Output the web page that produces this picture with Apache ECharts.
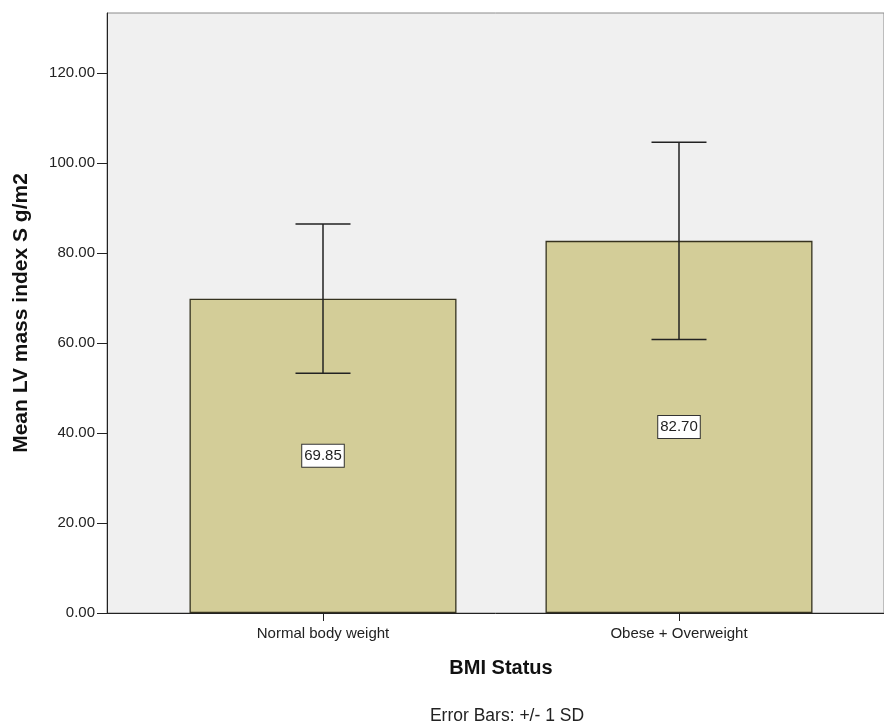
<!DOCTYPE html>
<html>
<head>
<meta charset="utf-8">
<script src="https://cdn.jsdelivr.net/npm/echarts@6/dist/echarts.min.js"></script>
<style>html,body{margin:0;padding:0;background:#fff}#c{width:884px;height:724px}</style>
</head>
<body>
<div id="c"></div>
<script>
var categories = ['Normal body weight', 'Obese + Overweight'];
var means = [69.85, 82.70];
var sds = [16.6, 21.9];
var yTicks = [0, 20, 40, 60, 80, 100, 120];
var yTitle = 'Mean LV mass index S g/m2';
var xTitle = 'BMI Status';
var footnote = 'Error Bars: +/- 1 SD';

var FONT = '"Liberation Sans", Arial, sans-serif';
var chart = echarts.init(document.getElementById('c'));
var errData = categories.map(function (c, i) { return [i, means[i] - sds[i], means[i] + sds[i]]; });

chart.setOption({
  animation: false,
  textStyle: { fontFamily: FONT },
  title: {
    text: footnote, left: 502, top: 702, textAlign: 'center',
    textStyle: { fontSize: 17.5, fontWeight: 'normal', color: '#222', fontFamily: FONT }
  },
  grid: [
    { left: 107, right: 0, top: 13, bottom: 111, show: true, backgroundColor: '#f0f0f0', borderColor: '#8a8a8a', borderWidth: 1 },
    { left: 145, right: 27, top: 13, bottom: 111 }
  ],
  xAxis: [
    { gridIndex: 0, type: 'category', data: [''], axisLine: { show: true, lineStyle: { color: '#222', width: 1 } }, axisTick: { show: false }, axisLabel: { show: false } },
    { gridIndex: 1, type: 'category', data: categories,
      axisLine: { show: false }, axisTick: { show: true, alignWithLabel: true, length: 8, lineStyle: { color: '#222' } },
      axisLabel: { fontSize: 15, color: '#222', margin: 13, fontFamily: FONT },
      name: xTitle, nameLocation: 'middle', nameGap: 45,
      nameTextStyle: { fontSize: 20, fontWeight: 'bold', color: '#111', fontFamily: FONT } }
  ],
  yAxis: [
    { gridIndex: 0, type: 'value', min: 0, max: 133.33,
      axisLine: { show: true, lineStyle: { color: '#222', width: 1 } },
      axisTick: { show: true, length: 10, lineStyle: { color: '#222' }, customValues: yTicks },
      splitLine: { show: false },
      axisLabel: { fontSize: 15, color: '#222', margin: 12, fontFamily: FONT,
        customValues: yTicks, formatter: function (v) { return v.toFixed(2); } },
      name: yTitle, nameLocation: 'middle', nameGap: 75,
      nameTextStyle: { fontSize: 21, fontWeight: 'bold', color: '#111', fontFamily: FONT } },
    { gridIndex: 1, type: 'value', min: 0, max: 133.33, show: false, splitLine: { show: false } }
  ],
  series: [
    { type: 'bar', xAxisIndex: 1, yAxisIndex: 1, data: means, barWidth: 267,
      itemStyle: { color: '#d3cd98', borderColor: '#35321f', borderWidth: 1.3 },
      label: { show: true, position: 'inside', formatter: function (p) { return p.value.toFixed(2); },
        fontSize: 15, color: '#222', fontFamily: FONT, backgroundColor: '#fff', borderColor: '#333', borderWidth: 1, padding: [4, 2, 3, 2] },
      z: 2 },
    { type: 'custom', xAxisIndex: 1, yAxisIndex: 1, data: errData, z: 5,
      renderItem: function (params, api) {
        var x = api.value(0);
        var lo = api.coord([x, api.value(1)]);
        var hi = api.coord([x, api.value(2)]);
        var hw = 27.5;
        var st = { stroke: '#222', lineWidth: 1.5 };
        return { type: 'group', children: [
          { type: 'line', shape: { x1: hi[0], y1: hi[1], x2: lo[0], y2: lo[1] }, style: st },
          { type: 'line', shape: { x1: hi[0] - hw, y1: hi[1], x2: hi[0] + hw, y2: hi[1] }, style: st },
          { type: 'line', shape: { x1: lo[0] - hw, y1: lo[1], x2: lo[0] + hw, y2: lo[1] }, style: st }
        ] };
      } }
  ]
});
</script>
</body>
</html>
